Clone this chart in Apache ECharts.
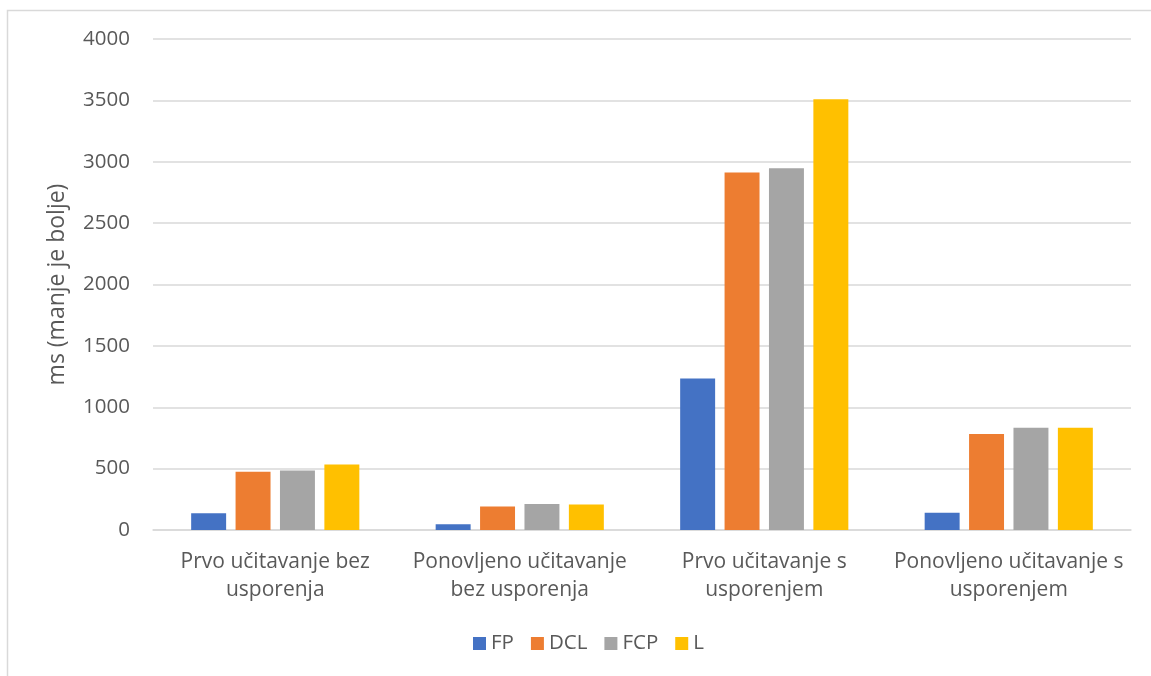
<!DOCTYPE html>
<html>
<head>
<meta charset="utf-8">
<script src="https://cdn.jsdelivr.net/npm/echarts@6/dist/echarts.min.js"></script>
<style>
html,body{margin:0;padding:0;background:#fff;}
#chart{width:1151px;height:676px;}
</style>
</head>
<body>
<div id="chart"></div>
<script>
const categories = [
  "Prvo učitavanje bez\nusporenja",
  "Ponovljeno učitavanje\nbez usporenja",
  "Prvo učitavanje s\nusporenjem",
  "Ponovljeno učitavanje s\nusporenjem"
];
const seriesNames = ["FP", "DCL", "FCP", "L"];
const FP  = [136, 46, 1234, 141];
const DCL = [474, 191, 2912, 783];
const FCP = [485, 212, 2947, 832];
const L   = [533, 207, 3510, 832];
const yTicks = { min: 0, max: 4000, interval: 500 };
const colors = ["#4472C4", "#ED7D31", "#A5A5A5", "#FFC000"];

const values = [FP, DCL, FCP, L];
const font = "'Open Sans', 'Liberation Sans', sans-serif";
const chart = echarts.init(document.getElementById('chart'), null, {renderer: 'canvas'});
chart.setOption({
  animation: false,
  backgroundColor: '#fff',
  graphic: [{
    type: 'rect',
    shape: { x: 7.5, y: 10.5, width: 2000, height: 2000 },
    style: { fill: 'none', stroke: '#d9d9d9', lineWidth: 1.5 },
    silent: true
  }],
  grid: { left: 153, right: 20, top: 39, bottom: 146, containLabel: false },
  legend: {
    bottom: 17,
    left: 468,
    itemWidth: 13,
    itemHeight: 13,
    itemGap: 17,
    icon: 'rect',
    textStyle: { color: '#595959', fontSize: 20.5, fontFamily: font },
    data: seriesNames
  },
  xAxis: {
    type: 'category',
    data: categories,
    axisLine: { lineStyle: { color: '#d9d9d9', width: 1.5 } },
    axisTick: { show: false },
    axisLabel: { color: '#595959', fontSize: 21, fontFamily: font, lineHeight: 28, margin: 18, interval: 0 }
  },
  yAxis: {
    type: 'value',
    min: yTicks.min, max: yTicks.max, interval: yTicks.interval,
    name: 'ms (manje je bolje)',
    nameLocation: 'middle',
    nameGap: 84,
    nameTextStyle: { color: '#595959', fontSize: 23, fontFamily: font },
    axisLine: { show: false },
    axisTick: { show: false },
    splitLine: { lineStyle: { color: '#d9d9d9', width: 1.5 } },
    axisLabel: { color: '#595959', fontSize: 20.5, fontFamily: font, margin: 23, formatter: v => String(v) }
  },
  series: seriesNames.map((n, i) => ({
    name: n,
    type: 'bar',
    data: values[i],
    barWidth: '14.3%',
    barGap: '27%',
    itemStyle: { color: colors[i] }
  }))
});
</script>
</body>
</html>
